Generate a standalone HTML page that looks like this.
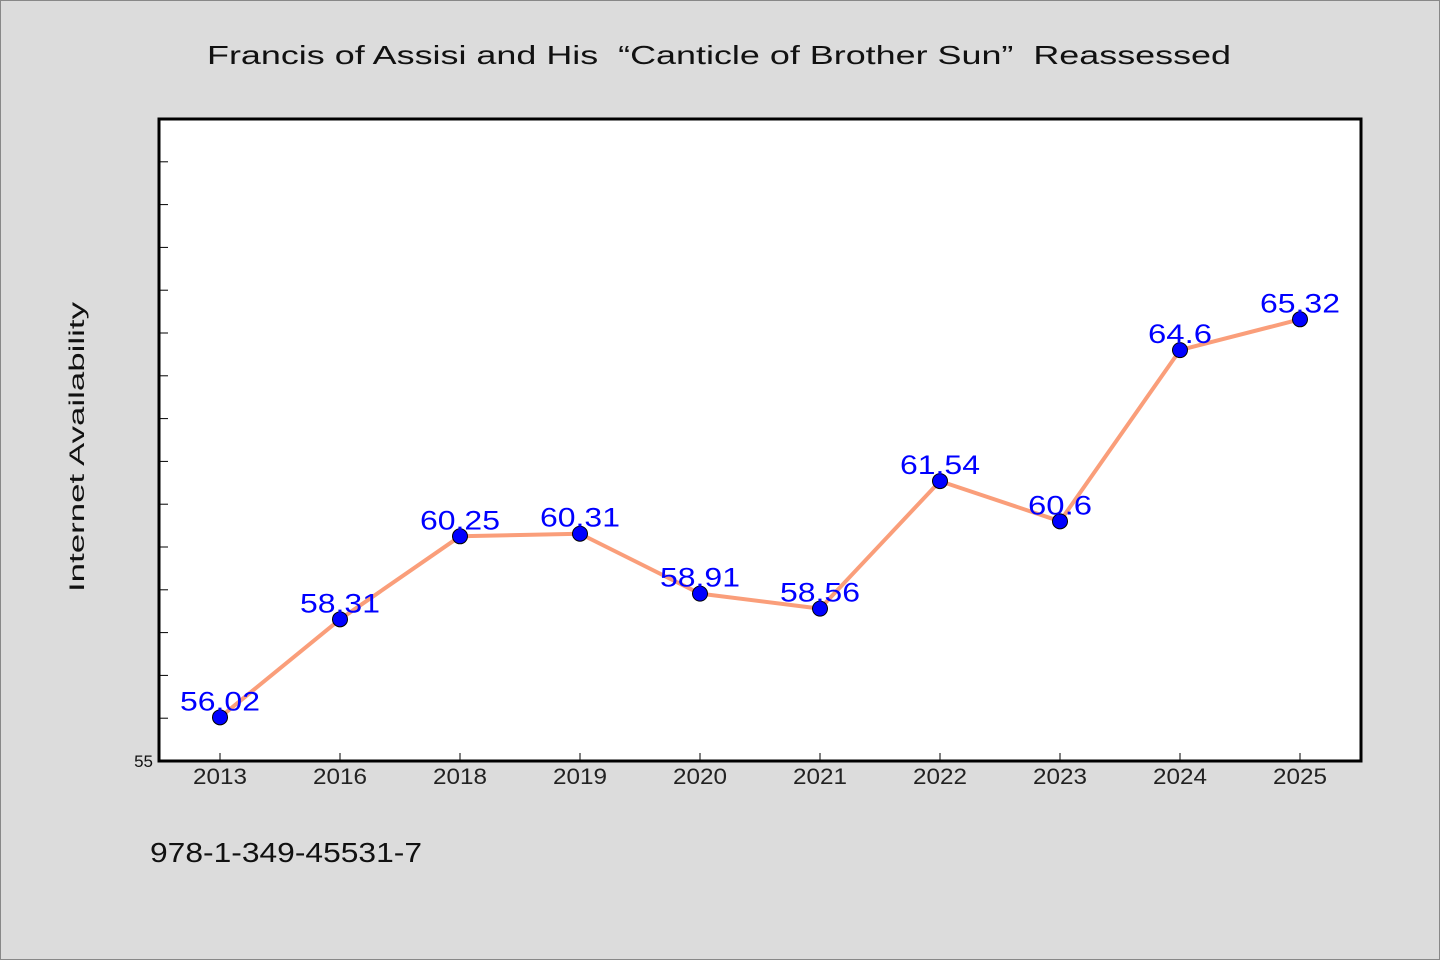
<!DOCTYPE html>
<html><head><meta charset="utf-8"><style>
html,body{margin:0;padding:0;background:#dcdcdc;overflow:hidden;}
svg{display:block;}
svg text{font-family:"WenQuanYi Zen Hei","Liberation Sans",sans-serif;}
</style></head><body>
<svg id="chart" width="1440" height="960" xmlns="http://www.w3.org/2000/svg">
<rect x="0.5" y="0.5" width="1439" height="959" fill="#dcdcdc" stroke="#888"/>
<text x="207" y="64" textLength="1024" lengthAdjust="spacingAndGlyphs" font-size="26" fill="#111" xml:space="preserve">Francis of Assisi and His  “Canticle of Brother Sun”  Reassessed</text>
<rect x="159" y="119" width="1202" height="642" fill="#fff" stroke="#000" stroke-width="3"/>
<text transform="translate(84,592) rotate(-90)" textLength="290" lengthAdjust="spacingAndGlyphs" font-size="21" fill="#111">Internet Availability</text>
<text x="150" y="862" textLength="272" lengthAdjust="spacingAndGlyphs" font-size="28" fill="#111">978-1-349-45531-7</text>
<g id="ticks"></g><g id="marks"></g>
</svg>
<script>
const categories=["2013","2016","2018","2019","2020","2021","2022","2023","2024","2025"];
const values=[56.02,58.31,60.25,60.31,58.91,58.56,61.54,60.6,64.6,65.32];
const labels=["56.02","58.31","60.25","60.31","58.91","58.56","61.54","60.6","64.6","65.32"];
const yMin=55,yMax=70;
const NS="http://www.w3.org/2000/svg";
const L=159,R=1361,T=119,B=761;
function y(v){return B-(v-yMin)/(yMax-yMin)*(B-T);}
function x(i){return 220+i*120;}
function mk(tag,attrs,parent){const e=document.createElementNS(NS,tag);for(const k in attrs)e.setAttribute(k,attrs[k]);parent.appendChild(e);return e;}
const tg=document.getElementById('ticks'),mg=document.getElementById('marks');
for(let v=yMin+1;v<yMax;v++){
 const t=mk('line',{x1:L,x2:L+9,y1:y(v),y2:y(v),stroke:'#000','stroke-width':1},tg);
 
 
}
const yl=mk('text',{x:153,y:B+6,'text-anchor':'end','font-size':17,fill:'#111'},tg);yl.textContent="55";


categories.forEach((c,i)=>{
 const t=mk('line',{x1:x(i),x2:x(i),y1:B-8,y2:B,stroke:'#000','stroke-width':1},tg);
 
 
 const tl=mk('text',{x:x(i)-27,y:B+23,textLength:54,lengthAdjust:'spacingAndGlyphs','font-size':22,fill:'#222'},tg);tl.textContent=c;
 
 
});
const pts=values.map((v,i)=>x(i)+','+y(v)).join(' ');
const line=mk('polyline',{points:pts,fill:'none',stroke:'#fa9e7a','stroke-width':4,'stroke-linejoin':'round'},mg);


values.forEach((v,i)=>{
 const c=mk('circle',{cx:x(i),cy:y(v),r:7.5,fill:'#0000ff',stroke:'#000','stroke-width':1},mg);
 
 
});
values.forEach((v,i)=>{
 const w=labels[i].length*16;
 const t=mk('text',{x:x(i)-w/2,y:y(v)-7,textLength:w,lengthAdjust:'spacingAndGlyphs','font-size':27,fill:'#0000ff'},mg);t.textContent=labels[i];
 
 
});
</script>
</body></html>
